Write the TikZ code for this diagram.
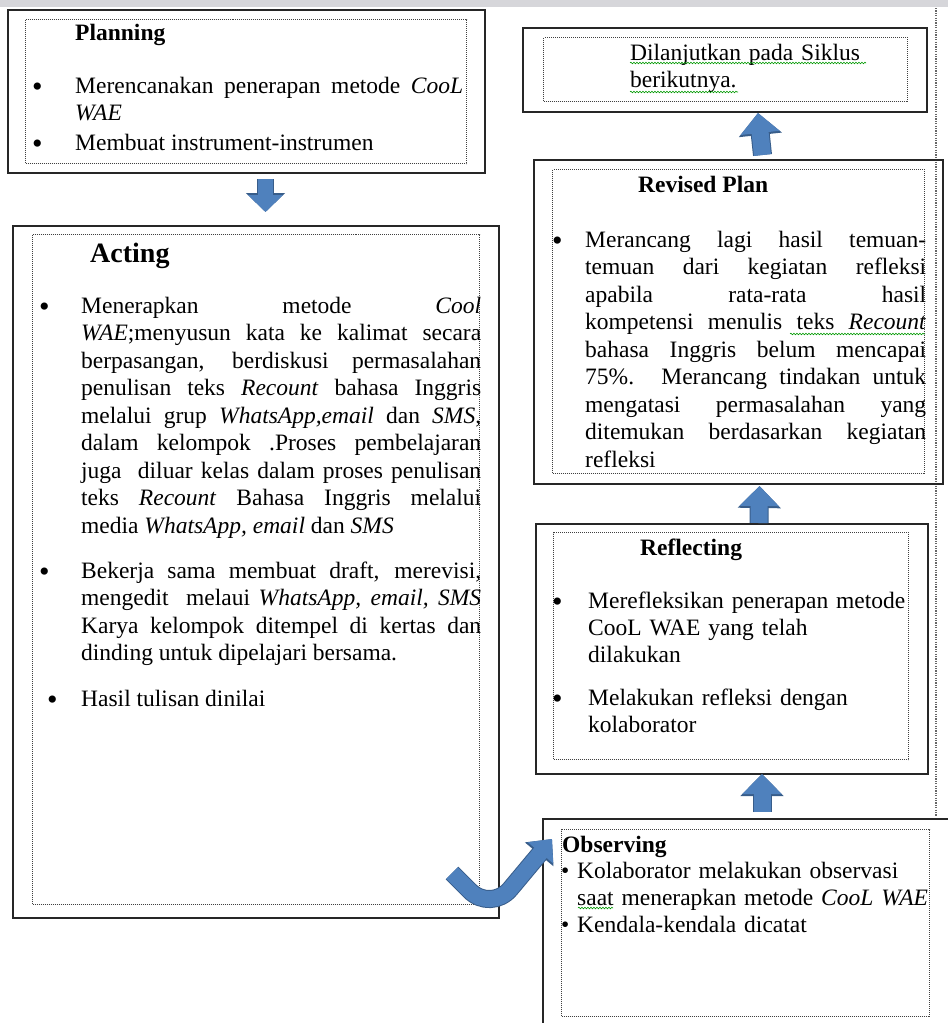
\documentclass[tikz,border=0pt]{standalone}
\usepackage{fontspec}
\setmainfont{Liberation Serif}
\usepackage{tikz}
\usepackage{xcolor}
\usetikzlibrary{arrows.meta, decorations.pathmorphing}
\newcommand{\StageOne}
{Planning}
\newcommand{\StageTwo}
{Acting}
\newcommand{\StageThree}
{Observing}
\newcommand{\StageFour}
{Reflecting}
\newcommand{\StageFive}
{Revised Plan}
\newcommand{\bigbul}{\raisebox{-3pt}{\fontsize{30}{30}\selectfont\textbullet}}
\newcommand{\bitem}[3][\bigbul]{\noindent\hangindent=#2\hangafter=1\makebox[#2][l]{\hspace*{#3}#1}\ignorespaces}
\tolerance=10000 \hbadness=10000 \hyphenpenalty=10000 \exhyphenpenalty=10000

\begin{document}
\begin{tikzpicture}[x=1pt, y=-1pt,
    outerbox/.style={draw=black!85, line width=1.8pt, anchor=north west, inner sep=0pt, outer sep=0pt},
    innerbox/.style={draw=black!75, line width=1pt, dash pattern=on 1pt off 1pt, anchor=north west, inner sep=0pt},
    stagehead/.style={anchor=base west, inner sep=0pt, font=\bfseries\fontsize{23.5}{27}\selectfont},
    stagetext/.style={anchor=base west, inner sep=0pt, align=justify, font=\fontsize{23.5}{27.5}\selectfont},
    blockarrow/.style={draw=arrowblue, line width=17pt, -{Triangle[width=38pt,length=20pt]},
      preaction={draw=arrowedge, line width=19pt, -{Triangle[width=42pt,length=22pt]}}},
    smallarrow/.style={draw=arrowblue, line width=15pt, -{Triangle[width=34pt,length=17pt]},
      preaction={draw=arrowedge, line width=17pt, -{Triangle[width=38pt,length=19pt]}}},
    bentarrow/.style={draw=arrowblue, line width=16pt, rounded corners=30pt, -{Triangle[width=32pt,length=18pt]},
      preaction={draw=arrowedge, line width=18pt, -{Triangle[width=36pt,length=20pt]}}},
    spellmark/.style={draw=green!60!black, line width=0.6pt, decorate, decoration={snake, amplitude=0.8pt, segment length=3pt}}]
    % Define colors
    \definecolor{arrowblue}{RGB}{79,129,189}
    \definecolor{arrowedge}{RGB}{56,93,138}
    \definecolor{pagegray}{RGB}{214,214,218}

    \useasboundingbox (0,0) rectangle (948,1023);
    \clip (0,0) rectangle (948,1023);

    % Page edge
    \fill[pagegray] (0,0) rectangle (948,7);
    \draw[black!60, line width=1.2pt, dash pattern=on 1.2pt off 1.2pt] (936,8) -- (936,816);

    % Planning
    \node[outerbox, minimum width=477pt, minimum height=163pt] (plan) at (8,10) {};
    \node[innerbox, minimum width=441pt, minimum height=144pt] (plan inner) at (25,19) {};
    \node[stagehead] (plan head) at (75,40) {\StageOne};
    \node[stagetext, text width=431pt, font=\fontsize{23.5}{27}\selectfont] (plan text) at (32,93) {%
      \bitem{43pt}{0pt}Merencanakan penerapan metode \textit{CooL}\linebreak \textit{WAE}\par\vspace{3pt}
      \bitem{43pt}{0pt}Membuat instrument-instrumen\par};

    % Acting
    \node[outerbox, minimum width=486pt, minimum height=692pt] (act) at (13,226) {};
    \node[innerbox, minimum width=447pt, minimum height=670pt] (act inner) at (32,234) {};
    \node[stagehead, font=\bfseries\fontsize{28}{32}\selectfont] (act head) at (90,262) {\StageTwo};
    \node[stagetext, text width=442pt] (act text) at (39,313) {%
      \bitem{42pt}{0pt}Menerapkan metode \textit{Cool}\linebreak
      \textit{WAE};menyusun kata ke kalimat secara\linebreak
      berpasangan, berdiskusi permasalahan\linebreak
      penulisan teks \textit{Recount} bahasa Inggris\linebreak
      melalui grup \textit{WhatsApp,email} dan \textit{SMS},\linebreak
      dalam kelompok .Proses pembelajaran\linebreak
      juga\ \ diluar kelas dalam proses penulisan\linebreak
      teks \textit{Recount} Bahasa Inggris melalui\linebreak
      media \textit{WhatsApp, email} dan \textit{SMS}\par\vspace{17.5pt}
      \bitem{42pt}{0pt}Bekerja sama membuat draft, merevisi,\linebreak
      mengedit\ \ melaui \textit{WhatsApp, email, SMS}\linebreak
      Karya kelompok ditempel di kertas dan\linebreak
      dinding untuk dipelajari bersama.\par\vspace{18.5pt}
      \bitem{42pt}{8pt}Hasil tulisan dinilai\par};

    % Next cycle
    \node[outerbox, minimum width=404pt, minimum height=84pt] (next) at (523,28) {};
    \node[innerbox, minimum width=364pt, minimum height=64pt] (next inner) at (543,37) {};
    \node[stagetext, align=left, text width=280pt, font=\fontsize{23.5}{27}\selectfont] (next text) at (630,60) {Dilanjutkan pada Siklus\newline berikutnya.\par};

    % Revised plan
    \node[outerbox, minimum width=409pt, minimum height=324pt] (rev) at (534,160) {};
    \node[innerbox, minimum width=372pt, minimum height=304pt] (rev inner) at (552,169) {};
    \node[stagehead] (rev head) at (638,192) {\StageFive};
    \node[stagetext, text width=374pt] (rev text) at (552,247) {%
      \bitem{33pt}{0pt}Merancang lagi hasil temuan-\linebreak
      temuan dari kegiatan refleksi\linebreak
      apabila rata-rata hasil\linebreak
      kompetensi menulis teks \textit{Recount}\linebreak
      bahasa Inggris belum mencapai\linebreak
      75\%. Merancang tindakan untuk\linebreak
      mengatasi permasalahan yang\linebreak
      ditemukan berdasarkan kegiatan\linebreak
      refleksi\par};

    % Reflecting
    \node[outerbox, minimum width=392pt, minimum height=250pt] (refl) at (536,524) {};
    \node[innerbox, minimum width=355pt, minimum height=227pt] (refl inner) at (553,532) {};
    \node[stagehead] (refl head) at (640,555) {\StageFour};
    \node[stagetext, align=left, text width=360pt, font=\fontsize{23.5}{27}\selectfont] (refl text) at (552,608) {%
      \bitem{36pt}{0pt}Merefleksikan penerapan metode\newline
      CooL WAE yang telah\newline dilakukan\par\vspace{16pt}
      \bitem{36pt}{0pt}Melakukan refleksi dengan\newline kolaborator\par};

    % Observing
    \node[outerbox, minimum width=420pt, minimum height=220pt] (obs) at (543,819) {};
    \node[innerbox, minimum width=368pt, minimum height=187pt] (obs inner) at (561,829) {};
    \node[stagehead] (obs head) at (562,852) {\StageThree};
    \node[stagetext, align=left, text width=370pt, font=\fontsize{23.5}{27}\selectfont] (obs text) at (561,878) {%
      \bitem[\textbullet]{16pt}{0pt}Kolaborator melakukan observasi\newline
      saat menerapkan metode \textit{CooL WAE}\par
      \bitem[\textbullet]{16pt}{0pt}Kendala-kendala dicatat\par};

    % Spelling marks
    \draw[spellmark] (630,63) -- (866,63);
    \draw[spellmark] (630,92) -- (738,92);
    \draw[spellmark] (790,334) -- (925,334);
    \draw[spellmark] (578,908) -- (613,908);

    % Cycle arrows
    \draw[smallarrow] ([xshift=19pt,yshift=-6pt]plan.south) -- ([xshift=9.5pt,yshift=14pt]act.north);
    \draw[blockarrow] ([xshift=9pt,yshift=7pt]obs.north) -- ([xshift=30pt]refl.south);
    \draw[blockarrow] ([xshift=27pt,yshift=1pt]refl.north) -- ([xshift=21pt,yshift=-2pt]rev.south);
    \draw[blockarrow] ([xshift=24pt,yshift=5pt]rev.north) -- ([xshift=33pt,yshift=-1pt]next.south);
    \coordinate (turn start) at (452,873);
    \coordinate (turn low) at (491,912);
    \draw[bentarrow] (turn start) -- (turn low) -- ([xshift=9pt,yshift=-20pt]obs.north west);
\end{tikzpicture}
\end{document}
